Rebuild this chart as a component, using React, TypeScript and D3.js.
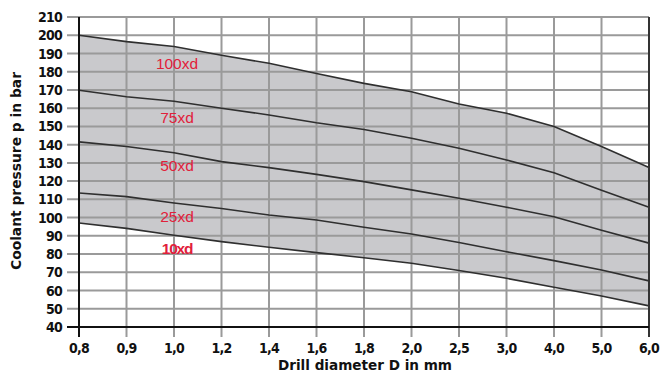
import React from "react";
import * as d3 from "d3";

const xLabels = ["0,8", "0,9", "1,0", "1,2", "1,4", "1,6", "1,8", "2,0", "2,5", "3,0", "4,0", "5,0", "6,0"];
const yTicks = [40, 50, 60, 70, 80, 90, 100, 110, 120, 130, 140, 150, 160, 170, 180, 190, 200, 210];

const series100 = [200, 196.5, 193.8, 189, 184.6, 179, 173.6, 169, 162.3, 157.2, 149.9, 139, 127.5];
const series75 = [169.8, 166.3, 163.8, 160, 156.3, 152, 148.3, 143.5, 138, 131.6, 124.6, 115, 105.7];
const series50 = [141.5, 139, 135.6, 130.7, 127.4, 123.7, 119.7, 115.2, 110.6, 105.7, 100.5, 93, 86];
const series25 = [113.5, 111.5, 108, 105, 101.4, 98.7, 94.7, 91, 86.3, 81.3, 76.4, 71.3, 65.3];
const series10 = [97, 94.1, 90.3, 86.8, 83.7, 80.8, 78, 75, 71, 66.7, 61.8, 57, 51.6];

const curveNames = ["100xd", "75xd", "50xd", "25xd", "10xd"];
const labelValues = [184.8, 155, 128.8, 100.4, 83.3];
const labelAt = "1,0";

const W = 664;
const H = 374;
const left = 79;
const right = 649;
const top = 17;
const bottom = 327;

export default function App() {
  const x = d3.scalePoint<string>().domain(xLabels).range([left, right]);
  const y = d3.scaleLinear().domain([40, 210]).range([bottom, top]);
  const allSeries = [series100, series75, series50, series25, series10];

  const line = d3
    .line<number>()
    .x((_, i) => x(xLabels[i]) as number)
    .y((d) => y(d));
  const area = d3
    .area<number>()
    .x((_, i) => x(xLabels[i]) as number)
    .y0((_, i) => y(series10[i]))
    .y1((d) => y(d));

  const font = "'DejaVu Sans Condensed', 'DejaVu Sans', sans-serif";

  return (
    <svg
      width={W}
      height={H}
      style={{ position: "absolute", left: 0, top: 0, background: "#fff" }}
      fontFamily={font}
    >
      <path d={area(series100) || ""} fill="#c9c9cc" />
      {yTicks.map((t) => (
        <line key={"gy" + t} x1={left - 12} x2={right} y1={y(t)} y2={y(t)} stroke="#9a9a9a" strokeWidth={2} />
      ))}
      {xLabels.map((l) => (
        <line key={"gx" + l} x1={x(l)} x2={x(l)} y1={top} y2={bottom + 10} stroke="#9a9a9a" strokeWidth={2} />
      ))}
      {allSeries.map((s, i) => (
        <path key={"s" + i} d={line(s) || ""} fill="none" stroke="#2f2f2f" strokeWidth={1.6} />
      ))}
      <line x1={left} x2={left} y1={top} y2={bottom + 10} stroke="#111" strokeWidth={2} />
      <line x1={right} x2={right} y1={top} y2={bottom + 10} stroke="#333" strokeWidth={2} />
      <line x1={left - 12} x2={right} y1={bottom} y2={bottom} stroke="#111" strokeWidth={2} />
      {yTicks.map((t) => (
        <text
          key={"ty" + t}
          x={62}
          y={y(t)}
          dy="0.36em"
          textAnchor="end"
          fontSize={14}
          fontWeight="bold"
          fill="#111"
          letterSpacing={-0.8}
        >
          {t}
        </text>
      ))}
      {xLabels.map((l) => (
        <text
          key={"tx" + l}
          x={x(l)}
          y={353}
          textAnchor="middle"
          fontSize={14}
          fontWeight="bold"
          fill="#111"
          letterSpacing={-0.8}
        >
          {l}
        </text>
      ))}
      {curveNames.map((n, i) => (
        <text
          key={"lab" + n}
          x={(x(labelAt) as number) + 3}
          y={y(labelValues[i])}
          dy="0.36em"
          textAnchor="middle"
          fontSize={15.5}
          fontWeight={n === "10xd" ? "bold" : "normal"}
          fill="#e1203a"
          letterSpacing={n === "10xd" ? -1.2 : 0}
          fontFamily="'Liberation Sans', Arial, sans-serif"
        >
          {n}
        </text>
      ))}
      <text
        x={365}
        y={370}
        textAnchor="middle"
        fontSize={13.5}
        fontWeight="bold"
        fill="#111"
        textLength={174}
        lengthAdjust="spacingAndGlyphs"
      >
        Drill diameter D in mm
      </text>
      <text
        transform={`translate(21,171) rotate(-90)`}
        textAnchor="middle"
        fontSize={13.5}
        fontWeight="bold"
        fill="#111"
        textLength={198}
        lengthAdjust="spacingAndGlyphs"
      >
        Coolant pressure p in bar
      </text>
    </svg>
  );
}
